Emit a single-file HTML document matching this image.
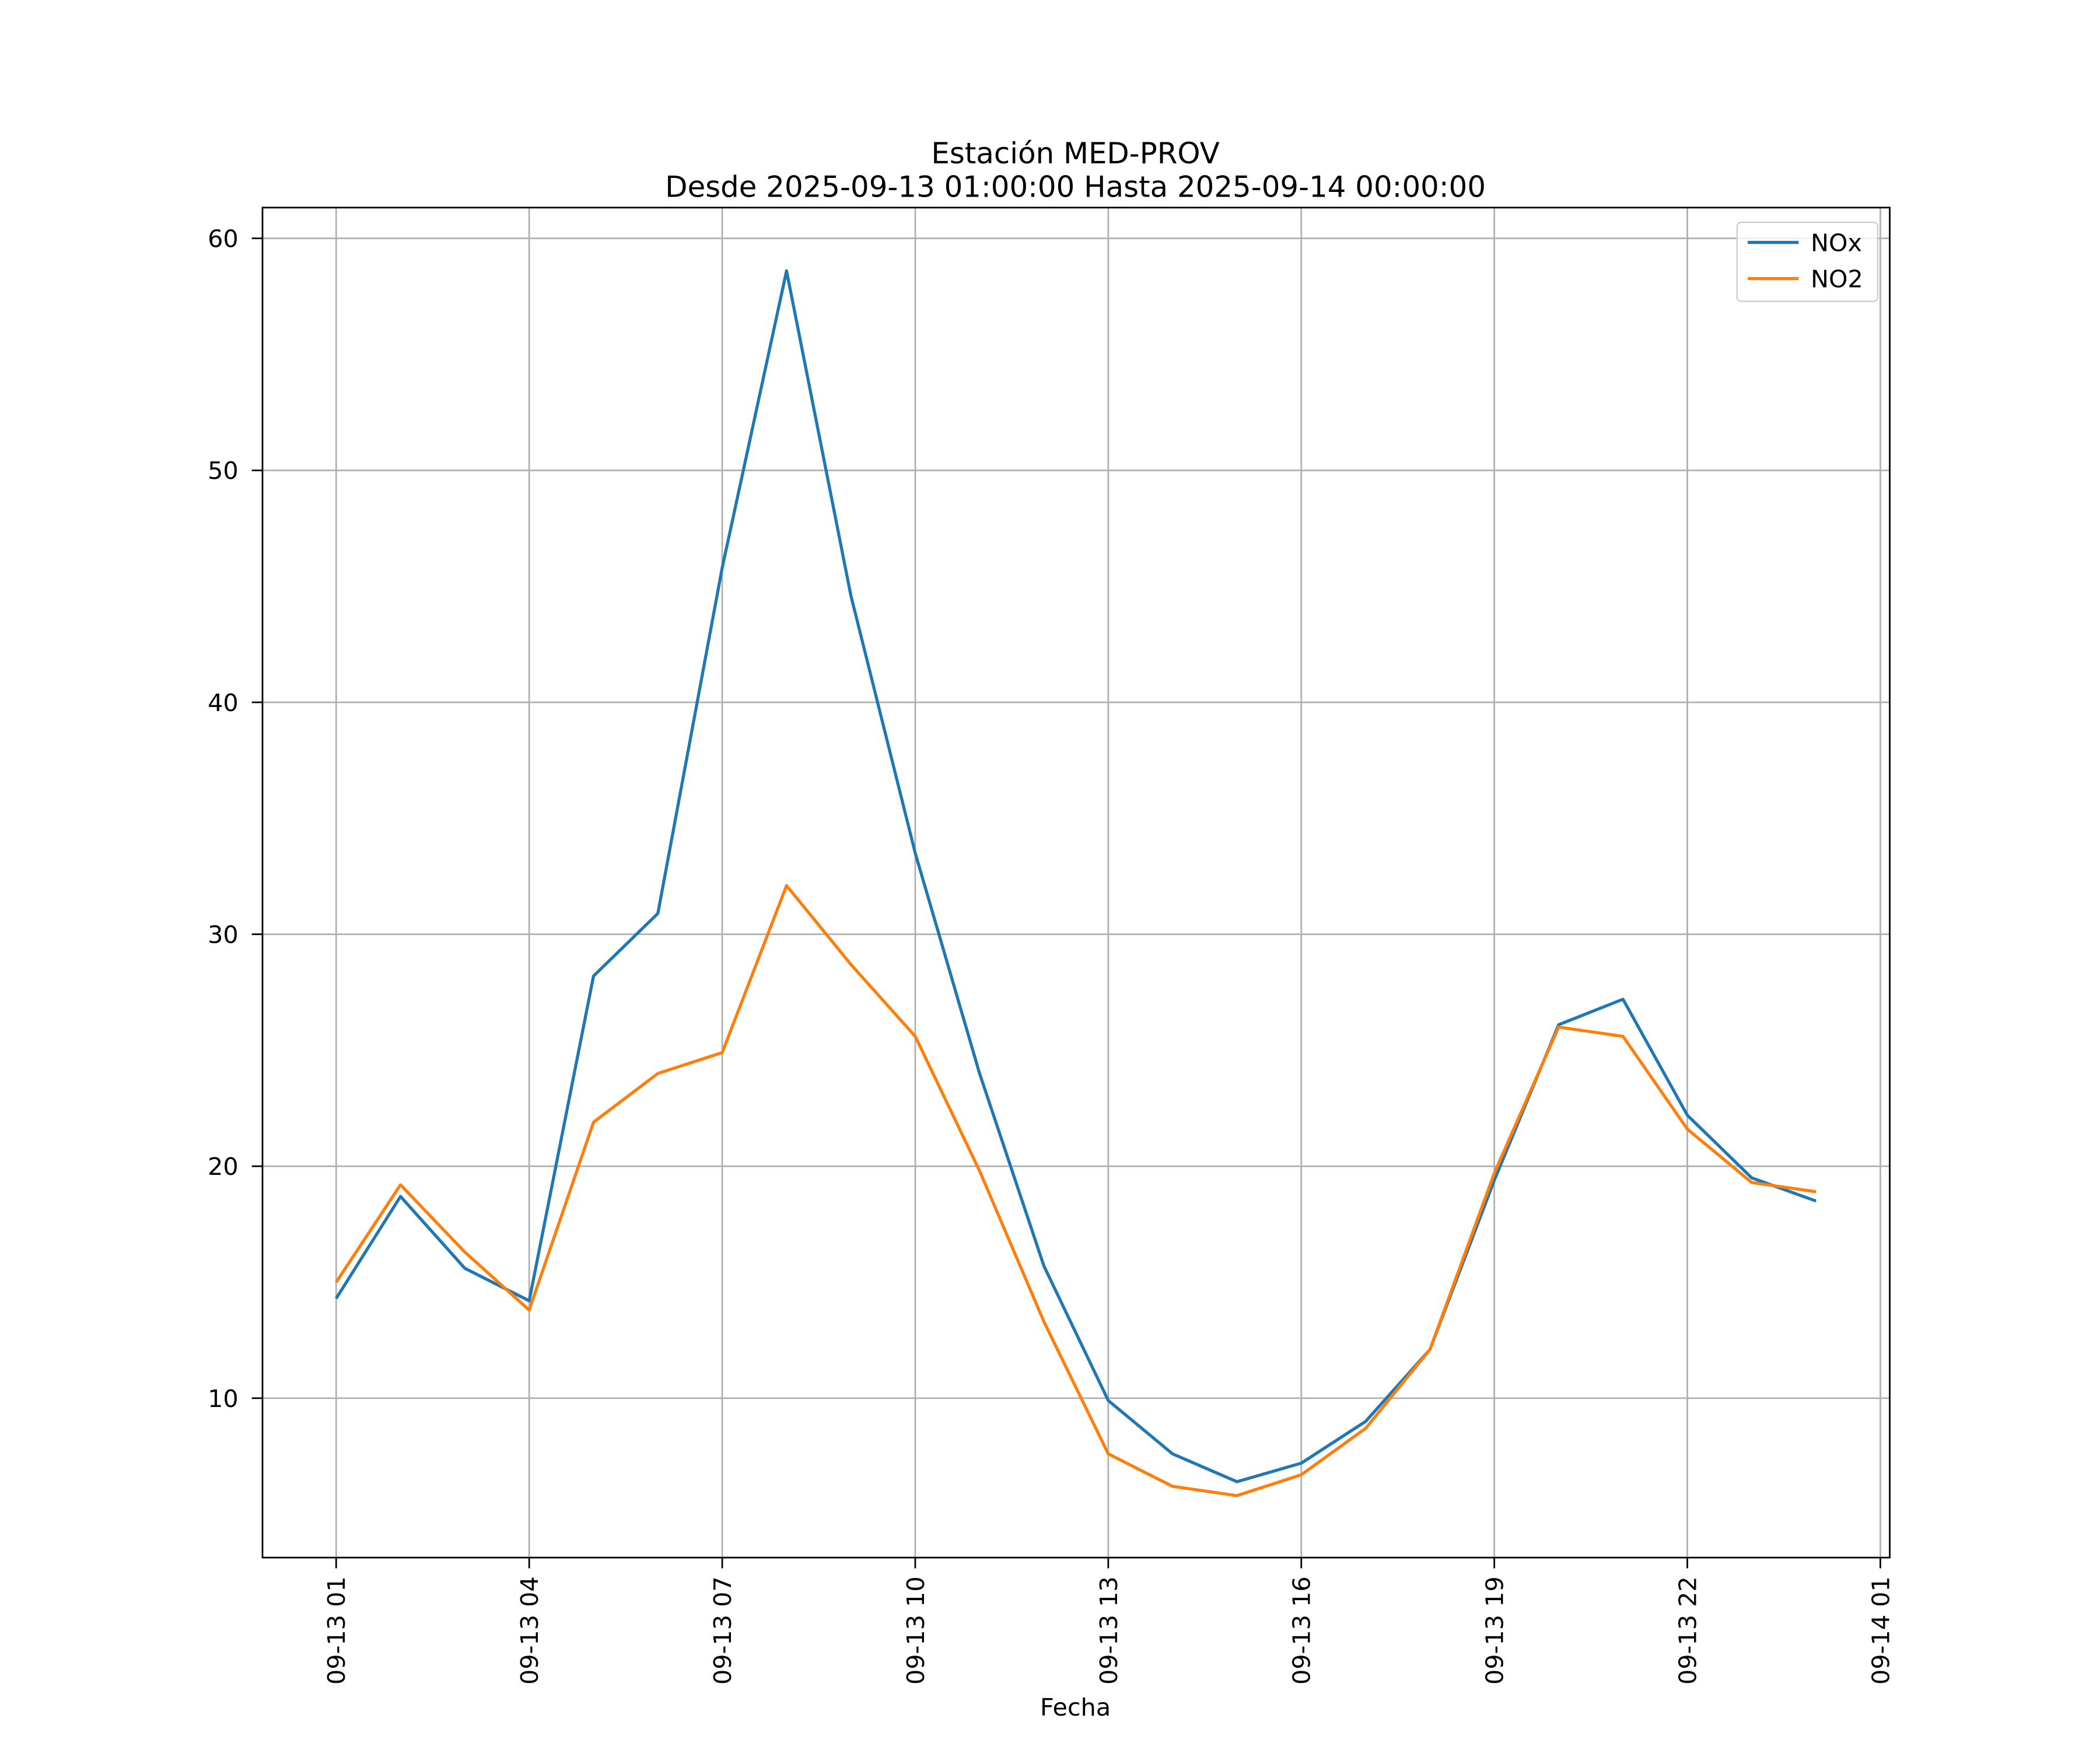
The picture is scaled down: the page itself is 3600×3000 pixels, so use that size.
<!DOCTYPE html>
<html><head><meta charset="utf-8"><style>
html,body{margin:0;padding:0;background:#fff;}
svg{display:block;font-family:"DejaVu Sans","Liberation Sans",sans-serif;}
</style></head><body>
<svg id="chart" width="3600" height="3000" viewBox="0 0 1568 1306.67" preserveAspectRatio="none" xmlns="http://www.w3.org/2000/svg">
<rect width="1568" height="1307" fill="#fff"/>
<text x="803" y="122" font-size="21.7" text-anchor="middle">Estación MED-PROV</text>
<text x="803" y="147" font-size="21.7" text-anchor="middle">Desde 2025-09-13 01:00:00 Hasta 2025-09-14 00:00:00</text>
<g id="grid"></g>
<g id="series"></g>
<rect x="196" y="155" width="1215" height="1008" fill="none" stroke="#000" stroke-width="1.2"/>
<g id="axes"></g>
<text x="803" y="1281" font-size="18" text-anchor="middle">Fecha</text>
<g>
<rect x="1297" y="166" width="105" height="59" rx="3" fill="#fff" fill-opacity="0.8" stroke="#ccc"/>
<line x1="1305" y1="181" x2="1343" y2="181" stroke="#1f77b4" stroke-width="2.3"/>
<text x="1352" y="187.5" font-size="18">NOx</text>
<line x1="1305" y1="208" x2="1343" y2="208" stroke="#ff7f0e" stroke-width="2.3"/>
<text x="1352" y="214.5" font-size="18">NO2</text>
</g>
</svg>
<script>
const hours = [1,2,3,4,5,6,7,8,9,10,11,12,13,14,15,16,17,18,19,20,21,22,23,24];
const noxValues = [14.3,18.7,15.6,14.2,28.2,30.9,45.8,58.6,44.6,33.5,24.0,15.7,9.9,7.6,6.4,7.2,9.0,12.1,19.4,26.1,27.2,22.2,19.5,18.5];
const no2Values = [15.0,19.2,16.3,13.8,21.9,24.0,24.9,32.1,28.7,25.6,19.8,13.3,7.6,6.2,5.8,6.7,8.7,12.1,19.7,26.0,25.6,21.6,19.3,18.9];
const yTicks = [10,20,30,40,50,60];
const xTickHours = [1,4,7,10,13,16,19,22,25];
const xTickLabels = ["09-13 01","09-13 04","09-13 07","09-13 10","09-13 13","09-13 16","09-13 19","09-13 22","09-14 01"];

const NS="http://www.w3.org/2000/svg";
function xs(h){return 251+(h-1)*(1153/24);}
function ys(v){return 1044-(v-10)*(866/50);}
function mk(tag,attrs,parent){const e=document.createElementNS(NS,tag);for(const k in attrs)e.setAttribute(k,attrs[k]);parent.appendChild(e);return e;}
const grid=document.getElementById('grid'),axes=document.getElementById('axes'),series=document.getElementById('series');
yTicks.forEach(v=>{
  const y=ys(v);
  const g=mk('line',{x1:196,x2:1411,y1:y,y2:y,stroke:'#b0b0b0','stroke-width':1.2},grid);
  
  
  mk('line',{x1:188,x2:196,y1:y,y2:y,stroke:'#000','stroke-width':1.2},axes);
  const t=mk('text',{x:178,y:y+6.5,'font-size':18,'text-anchor':'end'},axes);
  
  
  t.textContent=v;
});
xTickHours.forEach((h,i)=>{
  const x=xs(h);
  const g=mk('line',{x1:x,x2:x,y1:155,y2:1163,stroke:'#b0b0b0','stroke-width':1.2},grid);
  
  
  mk('line',{x1:x,x2:x,y1:1163,y2:1171,stroke:'#000','stroke-width':1.2},axes);
  const t=mk('text',{x:0,y:0,'font-size':18,'text-anchor':'end',transform:`translate(${x+6.5},1177) rotate(-90)`},axes);
  
  
  t.textContent=xTickLabels[i];
});
function line(vals,color,name){
  const p=mk('polyline',{points:hours.map((h,i)=>xs(h)+','+ys(vals[i])).join(' '),fill:'none',stroke:color,'stroke-width':2.3,'stroke-linejoin':'round'},series);
  
  
}
line(noxValues,'#1f77b4','nox-line');
line(no2Values,'#ff7f0e','no2-line');
</script>
</body></html>
